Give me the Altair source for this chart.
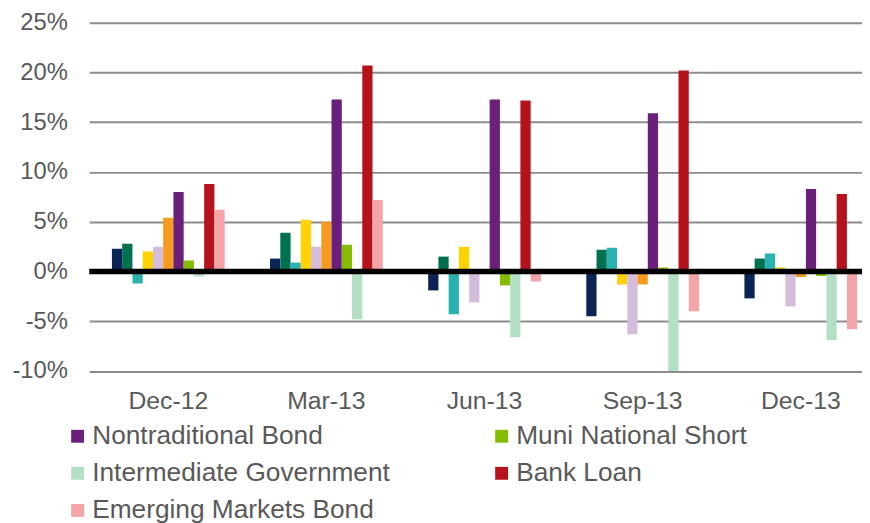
import altair as alt
import pandas as pd

quarters = ["Dec-12", "Mar-13", "Jun-13", "Sep-13", "Dec-13"]
series = [
    "Category 1", "Category 2", "Category 3", "Category 4", "Category 5", "Category 6",
    "Nontraditional Bond", "Muni National Short", "Intermediate Government",
    "Bank Loan", "Emerging Markets Bond",
]
colors = [
    "#0c2455", "#007150", "#2ab2b0", "#ffd200", "#d4bcdc", "#f79a1e",
    "#6a1f7a", "#84bd00", "#b3dfc5", "#b5121b", "#f4a3a6",
]
# legend is filled column by column: left column first, then right column
legend_series = [
    "Nontraditional Bond", "Intermediate Government", "Emerging Markets Bond",
    "Muni National Short", "Bank Loan",
]

values = {
    "Dec-12": [2.3, 2.8, -1.2, 2.0, 2.5, 5.4, 8.0, 1.1, -0.5, 8.8, 6.2],
    "Mar-13": [1.3, 3.9, 0.9, 5.2, 2.5, 5.0, 17.3, 2.7, -4.8, 20.7, 7.2],
    "Jun-13": [-1.9, 1.5, -4.3, 2.5, -3.1, 0.0, 17.3, -1.4, -6.6, 17.2, -1.0],
    "Sep-13": [-4.5, 2.2, 2.4, -1.3, -6.3, -1.3, 15.9, 0.4, -10.0, 20.2, -4.0],
    "Dec-13": [-2.7, 1.3, 1.8, 0.4, -3.5, -0.55, 8.3, -0.45, -6.9, 7.8, -5.8],
}
y_ticks = [-10, -5, 0, 5, 10, 15, 20, 25]

rows = []
for q in quarters:
    for s, v in zip(series, values[q]):
        rows.append({"quarter": q, "series": s, "value": v})
df = pd.DataFrame(rows)

FONT = "Liberation Sans"
TXT = "#595959"

bars = alt.Chart(df).mark_bar(clip=True).encode(
    x=alt.X(
        "quarter:N", sort=quarters, title=None,
        scale=alt.Scale(range=[0, 798], paddingInner=0.287, paddingOuter=0.1435),
        axis=alt.Axis(
            labelAngle=0, labelFont=FONT, labelFontSize=25, labelColor=TXT,
            labelPadding=18, ticks=False, domain=False, grid=False,
        ),
    ),
    xOffset=alt.XOffset("series:N", sort=series,
                        scale=alt.Scale(paddingInner=0, paddingOuter=0)),
    y=alt.Y(
        "value:Q", title=None,
        scale=alt.Scale(domain=[-10, 25], nice=False, zero=False),
        axis=alt.Axis(
            values=y_ticks, labelExpr="datum.value + '%'",
            labelFont=FONT, labelFontSize=24, labelColor=TXT, labelPadding=22,
            ticks=False, domain=False, grid=True, gridColor="#8c8c8c", gridWidth=2,
        ),
    ),
    color=alt.Color(
        "series:N", sort=series,
        scale=alt.Scale(domain=series, range=colors),
        legend=alt.Legend(
            values=legend_series, title=None, orient="none",
            legendX=-25, legendY=404, columns=2, columnPadding=99,
            rowPadding=10.5, symbolType="square", symbolSize=169,
            symbolStrokeWidth=0, labelFont=FONT, labelFontSize=26.5,
            labelColor=TXT, labelOffset=1.5, labelLimit=500,
        ),
    ),
)

zero_line = alt.Chart(pd.DataFrame({"v": [0]})).mark_rule(
    color="black", strokeWidth=5.5
).encode(y=alt.Y("v:Q"))

chart = alt.layer(bars, zero_line).properties(
    width=780, height=351.5,
    autosize=alt.AutoSizeParams(type="none"),
    padding={"left": 82, "top": 12.5, "right": 0, "bottom": 151},
).configure_view(stroke=None)

chart.save("out.html", embed_options={"renderer": "svg", "actions": False})
